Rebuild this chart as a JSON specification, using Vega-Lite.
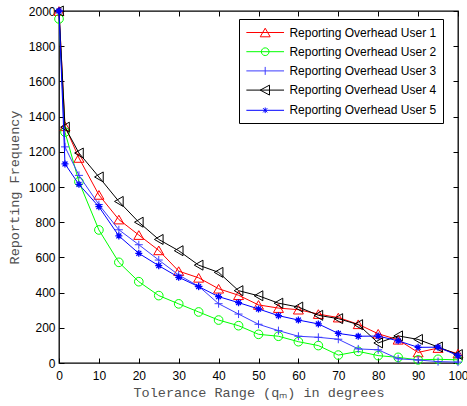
{
  "$schema": "https://vega.github.io/schema/vega-lite/v6.json",
  "width": 399,
  "height": 352,
  "autosize": {"type": "none"},
  "padding": {"left": 59, "top": 11, "right": 9, "bottom": 43},
  "background": "white",
  "config": {
    "view": {"stroke": "#000000", "strokeWidth": 1.3},
    "axis": {"grid": false, "domain": false, "tickColor": "#000000", "tickSize": -5, "tickWidth": 1,
      "labelFont": "Liberation Sans", "labelFontSize": 12, "labelColor": "#000000",
      "titleFont": "Liberation Mono", "titleFontSize": 13.5, "titleFontWeight": "normal", "titleColor": "#505050"}
  },
  "data": {"values": [
    {"series": "Reporting Overhead User 1", "tolerance": 0, "frequency": 2000},
    {"series": "Reporting Overhead User 1", "tolerance": 1.5, "frequency": 1345},
    {"series": "Reporting Overhead User 1", "tolerance": 5, "frequency": 1165},
    {"series": "Reporting Overhead User 1", "tolerance": 10, "frequency": 955},
    {"series": "Reporting Overhead User 1", "tolerance": 15, "frequency": 815},
    {"series": "Reporting Overhead User 1", "tolerance": 20, "frequency": 727},
    {"series": "Reporting Overhead User 1", "tolerance": 25, "frequency": 640},
    {"series": "Reporting Overhead User 1", "tolerance": 30, "frequency": 522},
    {"series": "Reporting Overhead User 1", "tolerance": 35, "frequency": 484},
    {"series": "Reporting Overhead User 1", "tolerance": 40, "frequency": 422},
    {"series": "Reporting Overhead User 1", "tolerance": 45, "frequency": 385},
    {"series": "Reporting Overhead User 1", "tolerance": 50, "frequency": 330},
    {"series": "Reporting Overhead User 1", "tolerance": 55, "frequency": 312},
    {"series": "Reporting Overhead User 1", "tolerance": 60, "frequency": 303},
    {"series": "Reporting Overhead User 1", "tolerance": 65, "frequency": 278},
    {"series": "Reporting Overhead User 1", "tolerance": 70, "frequency": 258},
    {"series": "Reporting Overhead User 1", "tolerance": 75, "frequency": 220},
    {"series": "Reporting Overhead User 1", "tolerance": 80, "frequency": 166},
    {"series": "Reporting Overhead User 1", "tolerance": 85, "frequency": 132},
    {"series": "Reporting Overhead User 1", "tolerance": 90, "frequency": 60},
    {"series": "Reporting Overhead User 1", "tolerance": 95, "frequency": 85},
    {"series": "Reporting Overhead User 1", "tolerance": 100, "frequency": 53},
    {"series": "Reporting Overhead User 2", "tolerance": 0, "frequency": 1955},
    {"series": "Reporting Overhead User 2", "tolerance": 1.5, "frequency": 1312},
    {"series": "Reporting Overhead User 2", "tolerance": 5, "frequency": 1030},
    {"series": "Reporting Overhead User 2", "tolerance": 10, "frequency": 756},
    {"series": "Reporting Overhead User 2", "tolerance": 15, "frequency": 572},
    {"series": "Reporting Overhead User 2", "tolerance": 20, "frequency": 462},
    {"series": "Reporting Overhead User 2", "tolerance": 25, "frequency": 383},
    {"series": "Reporting Overhead User 2", "tolerance": 30, "frequency": 336},
    {"series": "Reporting Overhead User 2", "tolerance": 35, "frequency": 290},
    {"series": "Reporting Overhead User 2", "tolerance": 40, "frequency": 244},
    {"series": "Reporting Overhead User 2", "tolerance": 45, "frequency": 212},
    {"series": "Reporting Overhead User 2", "tolerance": 50, "frequency": 163},
    {"series": "Reporting Overhead User 2", "tolerance": 55, "frequency": 152},
    {"series": "Reporting Overhead User 2", "tolerance": 60, "frequency": 121},
    {"series": "Reporting Overhead User 2", "tolerance": 65, "frequency": 99},
    {"series": "Reporting Overhead User 2", "tolerance": 70, "frequency": 45},
    {"series": "Reporting Overhead User 2", "tolerance": 75, "frequency": 66},
    {"series": "Reporting Overhead User 2", "tolerance": 80, "frequency": 42},
    {"series": "Reporting Overhead User 2", "tolerance": 85, "frequency": 32},
    {"series": "Reporting Overhead User 2", "tolerance": 90, "frequency": 18},
    {"series": "Reporting Overhead User 2", "tolerance": 95, "frequency": 21},
    {"series": "Reporting Overhead User 2", "tolerance": 100, "frequency": 18},
    {"series": "Reporting Overhead User 3", "tolerance": 0, "frequency": 2000},
    {"series": "Reporting Overhead User 3", "tolerance": 1.5, "frequency": 1228},
    {"series": "Reporting Overhead User 3", "tolerance": 5, "frequency": 1066},
    {"series": "Reporting Overhead User 3", "tolerance": 10, "frequency": 900},
    {"series": "Reporting Overhead User 3", "tolerance": 15, "frequency": 757},
    {"series": "Reporting Overhead User 3", "tolerance": 20, "frequency": 672},
    {"series": "Reporting Overhead User 3", "tolerance": 25, "frequency": 585},
    {"series": "Reporting Overhead User 3", "tolerance": 30, "frequency": 500},
    {"series": "Reporting Overhead User 3", "tolerance": 35, "frequency": 436},
    {"series": "Reporting Overhead User 3", "tolerance": 40, "frequency": 337},
    {"series": "Reporting Overhead User 3", "tolerance": 45, "frequency": 278},
    {"series": "Reporting Overhead User 3", "tolerance": 50, "frequency": 220},
    {"series": "Reporting Overhead User 3", "tolerance": 55, "frequency": 184},
    {"series": "Reporting Overhead User 3", "tolerance": 60, "frequency": 152},
    {"series": "Reporting Overhead User 3", "tolerance": 65, "frequency": 146},
    {"series": "Reporting Overhead User 3", "tolerance": 70, "frequency": 135},
    {"series": "Reporting Overhead User 3", "tolerance": 75, "frequency": 80},
    {"series": "Reporting Overhead User 3", "tolerance": 80, "frequency": 75},
    {"series": "Reporting Overhead User 3", "tolerance": 85, "frequency": 24},
    {"series": "Reporting Overhead User 3", "tolerance": 90, "frequency": 17},
    {"series": "Reporting Overhead User 3", "tolerance": 95, "frequency": 8},
    {"series": "Reporting Overhead User 3", "tolerance": 100, "frequency": 5},
    {"series": "Reporting Overhead User 4", "tolerance": 0, "frequency": 2000},
    {"series": "Reporting Overhead User 4", "tolerance": 1.5, "frequency": 1340},
    {"series": "Reporting Overhead User 4", "tolerance": 5, "frequency": 1193},
    {"series": "Reporting Overhead User 4", "tolerance": 10, "frequency": 1057},
    {"series": "Reporting Overhead User 4", "tolerance": 15, "frequency": 918},
    {"series": "Reporting Overhead User 4", "tolerance": 20, "frequency": 800},
    {"series": "Reporting Overhead User 4", "tolerance": 25, "frequency": 702},
    {"series": "Reporting Overhead User 4", "tolerance": 30, "frequency": 638},
    {"series": "Reporting Overhead User 4", "tolerance": 35, "frequency": 556},
    {"series": "Reporting Overhead User 4", "tolerance": 40, "frequency": 515},
    {"series": "Reporting Overhead User 4", "tolerance": 45, "frequency": 411},
    {"series": "Reporting Overhead User 4", "tolerance": 50, "frequency": 382},
    {"series": "Reporting Overhead User 4", "tolerance": 55, "frequency": 340},
    {"series": "Reporting Overhead User 4", "tolerance": 60, "frequency": 318},
    {"series": "Reporting Overhead User 4", "tolerance": 65, "frequency": 271},
    {"series": "Reporting Overhead User 4", "tolerance": 70, "frequency": 252},
    {"series": "Reporting Overhead User 4", "tolerance": 75, "frequency": 218},
    {"series": "Reporting Overhead User 4", "tolerance": 80, "frequency": 114},
    {"series": "Reporting Overhead User 4", "tolerance": 85, "frequency": 154},
    {"series": "Reporting Overhead User 4", "tolerance": 90, "frequency": 134},
    {"series": "Reporting Overhead User 4", "tolerance": 95, "frequency": 91},
    {"series": "Reporting Overhead User 4", "tolerance": 100, "frequency": 48},
    {"series": "Reporting Overhead User 5", "tolerance": 0, "frequency": 2000},
    {"series": "Reporting Overhead User 5", "tolerance": 1.5, "frequency": 1131},
    {"series": "Reporting Overhead User 5", "tolerance": 5, "frequency": 1015},
    {"series": "Reporting Overhead User 5", "tolerance": 10, "frequency": 888},
    {"series": "Reporting Overhead User 5", "tolerance": 15, "frequency": 722},
    {"series": "Reporting Overhead User 5", "tolerance": 20, "frequency": 623},
    {"series": "Reporting Overhead User 5", "tolerance": 25, "frequency": 553},
    {"series": "Reporting Overhead User 5", "tolerance": 30, "frequency": 487},
    {"series": "Reporting Overhead User 5", "tolerance": 35, "frequency": 434},
    {"series": "Reporting Overhead User 5", "tolerance": 40, "frequency": 377},
    {"series": "Reporting Overhead User 5", "tolerance": 45, "frequency": 343},
    {"series": "Reporting Overhead User 5", "tolerance": 50, "frequency": 307},
    {"series": "Reporting Overhead User 5", "tolerance": 55, "frequency": 269},
    {"series": "Reporting Overhead User 5", "tolerance": 60, "frequency": 244},
    {"series": "Reporting Overhead User 5", "tolerance": 65, "frequency": 222},
    {"series": "Reporting Overhead User 5", "tolerance": 70, "frequency": 168},
    {"series": "Reporting Overhead User 5", "tolerance": 75, "frequency": 152},
    {"series": "Reporting Overhead User 5", "tolerance": 80, "frequency": 153},
    {"series": "Reporting Overhead User 5", "tolerance": 85, "frequency": 126},
    {"series": "Reporting Overhead User 5", "tolerance": 90, "frequency": 89},
    {"series": "Reporting Overhead User 5", "tolerance": 95, "frequency": 90},
    {"series": "Reporting Overhead User 5", "tolerance": 100, "frequency": 42}
  ]},
  "encoding": {
    "x": {"field": "tolerance", "type": "quantitative", "scale": {"domain": [0, 100], "nice": false, "zero": false}, "axis": null},
    "y": {"field": "frequency", "type": "quantitative", "scale": {"domain": [0, 2000], "nice": false}, "axis": null}
  },
  "resolve": {"axis": {"x": "independent", "y": "independent"}},
  "layer": [
    {
      "transform": [{"filter": "datum.series == 'Reporting Overhead User 1'"}],
      "mark": {"type": "line", "strokeWidth": 1, "color": "#ff0000"},
      "encoding": {
        "x": {"field": "tolerance", "type": "quantitative", "scale": {"domain": [0, 100], "nice": false, "zero": false},
          "axis": {"orient": "bottom", "values": [0, 10, 20, 30, 40, 50, 60, 70, 80, 90, 100], "labelFlush": false, "labelPadding": 12,
            "title": "Tolerance Range (qₘ) in degrees", "titlePadding": 4}},
        "y": {"field": "frequency", "type": "quantitative", "scale": {"domain": [0, 2000], "nice": false},
          "axis": {"orient": "left", "values": [0, 200, 400, 600, 800, 1000, 1200, 1400, 1600, 1800, 2000], "format": "d", "labelPadding": 9,
            "title": "Reporting Frequency", "titlePadding": 7}}
      }
    },
    {
      "transform": [{"filter": "datum.series == 'Reporting Overhead User 1'"}],
      "mark": {"type": "point", "shape": "triangle-up", "size": 100, "filled": false, "color": "#ff0000", "strokeWidth": 1, "opacity": 1}
    },
    {
      "transform": [{"filter": "datum.series == 'Reporting Overhead User 2'"}],
      "mark": {"type": "line", "strokeWidth": 1, "color": "#00ff00"}
    },
    {
      "transform": [{"filter": "datum.series == 'Reporting Overhead User 2'"}],
      "mark": {"type": "point", "shape": "circle", "size": 75, "filled": false, "color": "#00ff00", "strokeWidth": 1, "opacity": 1}
    },
    {
      "transform": [{"filter": "datum.series == 'Reporting Overhead User 3'"}],
      "mark": {"type": "line", "strokeWidth": 1, "color": "#3c3cff"}
    },
    {
      "transform": [{"filter": "datum.series == 'Reporting Overhead User 3'"}],
      "mark": {"type": "point", "shape": "M-1,0H1M0,-1V1", "size": 64, "filled": false, "color": "#3c3cff", "strokeWidth": 1, "opacity": 1}
    },
    {
      "transform": [{"filter": "datum.series == 'Reporting Overhead User 4'"}],
      "mark": {"type": "line", "strokeWidth": 1, "color": "#000000"}
    },
    {
      "transform": [{"filter": "datum.series == 'Reporting Overhead User 4'"}],
      "mark": {"type": "point", "shape": "triangle-left", "size": 100, "filled": false, "color": "#000000", "strokeWidth": 1, "opacity": 1}
    },
    {
      "transform": [{"filter": "datum.series == 'Reporting Overhead User 5'"}],
      "mark": {"type": "line", "strokeWidth": 1, "color": "#0000ff"}
    },
    {
      "transform": [{"filter": "datum.series == 'Reporting Overhead User 5'"}],
      "mark": {"type": "point", "shape": "M-1,0H1M0,-1V1M-0.7,-0.7L0.7,0.7M-0.7,0.7L0.7,-0.7", "size": 49, "filled": false, "color": "#0000ff", "strokeWidth": 1.3, "opacity": 1}
    },
    {
      "mark": {"type": "point", "filled": false, "strokeWidth": 1, "opacity": 0},
      "encoding": {
        "x": {"field": "tolerance", "type": "quantitative", "scale": {"domain": [0, 100], "nice": false, "zero": false},
          "axis": {"orient": "top", "values": [0, 10, 20, 30, 40, 50, 60, 70, 80, 90, 100], "labels": false, "title": null}},
        "y": {"field": "frequency", "type": "quantitative", "scale": {"domain": [0, 2000], "nice": false},
          "axis": {"orient": "right", "values": [0, 200, 400, 600, 800, 1000, 1200, 1400, 1600, 1800, 2000], "labels": false, "title": null}},
        "color": {"field": "series", "type": "nominal",
          "scale": {"domain": ["Reporting Overhead User 1", "Reporting Overhead User 2", "Reporting Overhead User 3", "Reporting Overhead User 4", "Reporting Overhead User 5"],
            "range": ["#ff0000", "#00ff00", "#3c3cff", "#000000", "#0000ff"]},
          "legend": {"title": null, "orient": "none", "legendX": 180, "legendY": 8, "strokeColor": "#000000", "fillColor": "#ffffff",
            "padding": 6, "symbolSize": 196, "symbolStrokeWidth": 1, "symbolOffset": 12.7, "labelOffset": 16.7, "rowPadding": 5.2,
            "labelFont": "Liberation Sans", "labelFontSize": 12, "labelColor": "#000000", "symbolOpacity": 1}},
        "shape": {"field": "series", "type": "nominal",
          "scale": {"domain": ["Reporting Overhead User 1", "Reporting Overhead User 2", "Reporting Overhead User 3", "Reporting Overhead User 4", "Reporting Overhead User 5"],
            "range": [
              "M-2.69,0H2.69M0,-0.615L-0.71,0.615L0.71,0.615Z",
              "M-2.69,0H2.69M0.55,0A0.55,0.55,0,1,1,-0.55,0A0.55,0.55,0,1,1,0.55,0Z",
              "M-2.69,0H2.69M0,-0.57V0.57",
              "M-2.69,0H2.69M-0.71,0L0.615,-0.71L0.615,0.71Z",
              "M-2.69,0H2.69M0,-0.4V0.4M-0.3,-0.3L0.3,0.3M-0.3,0.3L0.3,-0.3"
            ]},
          "legend": {"title": null, "orient": "none", "legendX": 180, "legendY": 8, "strokeColor": "#000000", "fillColor": "#ffffff",
            "padding": 6, "symbolSize": 196, "symbolStrokeWidth": 1, "symbolOffset": 12.7, "labelOffset": 16.7, "rowPadding": 5.2,
            "labelFont": "Liberation Sans", "labelFontSize": 12, "labelColor": "#000000", "symbolOpacity": 1}}
      }
    }
  ]
}
